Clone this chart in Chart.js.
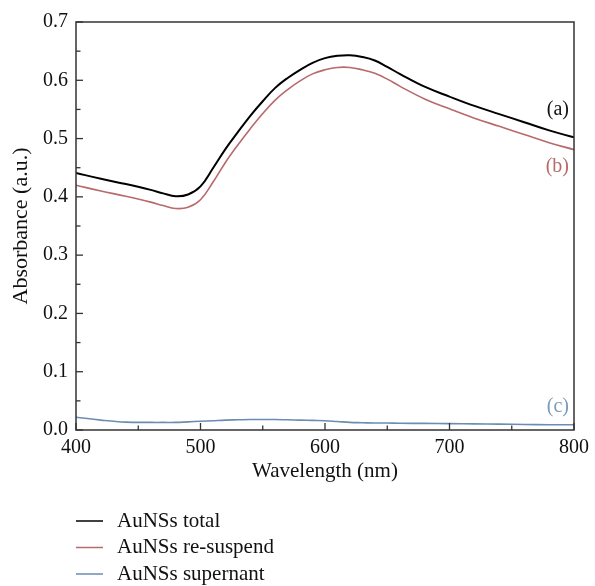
<!DOCTYPE html>
<html>
<head>
<meta charset="utf-8">
<script src="https://cdn.jsdelivr.net/npm/chart.js@4/dist/chart.umd.min.js"></script>
<style>
html,body{margin:0;padding:0;background:#fff;}
#wrap{width:595px;height:586px;position:relative;}
</style>
</head>
<body>
<div id="wrap"><canvas id="c" width="595" height="586"></canvas></div>
<script>
const wavelengths = [400,420,440,460,470,480,490,500,510,520,530,540,550,560,570,580,590,600,610,620,630,640,650,660,680,700,720,740,760,780,800];
const totalValues = [0.441,0.431,0.422,0.412,0.406,0.401,0.404,0.418,0.449,0.482,0.511,0.539,0.564,0.587,0.604,0.618,0.630,0.638,0.642,0.643,0.640,0.634,0.623,0.611,0.589,0.572,0.556,0.542,0.528,0.514,0.502];
const resuspendValues = [0.420,0.410,0.401,0.391,0.385,0.380,0.382,0.395,0.425,0.459,0.489,0.517,0.543,0.566,0.584,0.599,0.611,0.618,0.622,0.622,0.618,0.612,0.602,0.590,0.568,0.551,0.535,0.521,0.507,0.493,0.481];
const supernantValues = [0.022,0.017,0.0135,0.013,0.013,0.013,0.014,0.015,0.016,0.017,0.0175,0.018,0.018,0.018,0.0175,0.017,0.0165,0.016,0.0145,0.013,0.0125,0.012,0.012,0.0115,0.0113,0.011,0.0105,0.010,0.0095,0.009,0.009];
const seriesLabels = ['AuNSs total','AuNSs re-suspend','AuNSs supernant'];
const curveTags = ['(a)','(b)','(c)'];
const tagValues = [0.549,0.451,0.040];
const xTicks = [400,500,600,700,800];
const yTicks = [0,0.1,0.2,0.3,0.4,0.5,0.6,0.7];

const colors = ['#000000','#b8696b','#6a8db0'];
const tagColors = ['#111111','#b8696b','#7b9ab9'];
const FONT = '"Liberation Serif", "DejaVu Serif", serif';

function pts(vals){ return wavelengths.map((w,i)=>({x:w,y:vals[i]})); }

const framePlugin = {
  id:'frame',
  afterDraw(chart){
    const {ctx, chartArea:a, scales:{x,y}} = chart;
    ctx.save();
    ctx.strokeStyle = '#333';
    ctx.lineWidth = 1.5;
    ctx.strokeRect(a.left, a.top, a.right-a.left, a.bottom-a.top);
    ctx.lineWidth = 1.3;
    for (let v=400; v<=800; v+=50){
      const px = x.getPixelForValue(v);
      const len = (v%100===0)?7:4.5;
      ctx.beginPath(); ctx.moveTo(px,a.bottom); ctx.lineTo(px,a.bottom-len); ctx.stroke();
    }
    for (let k=0; k<=14; k++){
      const v = k*0.05;
      const py = y.getPixelForValue(v);
      const len = (k%2===0)?7:4.5;
      ctx.beginPath(); ctx.moveTo(a.left,py); ctx.lineTo(a.left+len,py); ctx.stroke();
    }
    ctx.font = '20px ' + FONT;
    ctx.textAlign = 'right';
    ctx.textBaseline = 'middle';
    curveTags.forEach((t,i)=>{
      ctx.fillStyle = tagColors[i];
      ctx.fillText(t, x.getPixelForValue(796), y.getPixelForValue(tagValues[i]));
    });
    ctx.font = '21px ' + FONT;
    const lx = a.left, tx = a.left + 41;
    let ly = a.bottom + 91;
    ctx.textAlign = 'left';
    chart.data.datasets.forEach((ds,i)=>{
      ctx.strokeStyle = ds.borderColor;
      ctx.lineWidth = 1.5;
      ctx.beginPath(); ctx.moveTo(lx, ly); ctx.lineTo(lx+27, ly); ctx.stroke();
      ctx.fillStyle = '#111';
      ctx.fillText(ds.label, tx, ly);
      ly += 26.5;
    });
    ctx.restore();
  }
};

new Chart(document.getElementById('c'), {
  type:'line',
  data:{
    datasets:[
      {label:seriesLabels[0], data:pts(totalValues), borderColor:colors[0], borderWidth:2},
      {label:seriesLabels[1], data:pts(resuspendValues), borderColor:colors[1], borderWidth:1.6},
      {label:seriesLabels[2], data:pts(supernantValues), borderColor:colors[2], borderWidth:1.6}
    ]
  },
  options:{
    responsive:false,
    animation:false,
    elements:{point:{radius:0}, line:{tension:0.4, fill:false}},
    layout:{padding:{left:0,right:18,top:22,bottom:96}},
    plugins:{legend:{display:false}, tooltip:{enabled:false}},
    scales:{
      x:{
        type:'linear', min:400, max:800,
        afterBuildTicks(s){ s.ticks = xTicks.map(v=>({value:v})); },
        afterFit(s){ s.height = 60; },
        grid:{display:false, drawTicks:false},
        border:{display:false},
        ticks:{color:'#111', font:{family:FONT,size:20}, padding:6, maxRotation:0},
        title:{display:true, text:'Wavelength (nm)', color:'#111', font:{family:FONT,size:21}, padding:{top:0,bottom:6}}
      },
      y:{
        type:'linear', min:0, max:0.7,
        afterBuildTicks(s){ s.ticks = yTicks.map(v=>({value:v})); },
        afterFit(s){ s.width = 76; },
        grid:{display:false, drawTicks:false},
        border:{display:false},
        ticks:{color:'#111', font:{family:FONT,size:20}, padding:8, callback:v=>v.toFixed(1)},
        title:{display:true, text:'Absorbance (a.u.)', color:'#111', font:{family:FONT,size:22}, padding:{top:8,bottom:0}}
      }
    }
  },
  plugins:[framePlugin]
});
</script>
</body>
</html>
